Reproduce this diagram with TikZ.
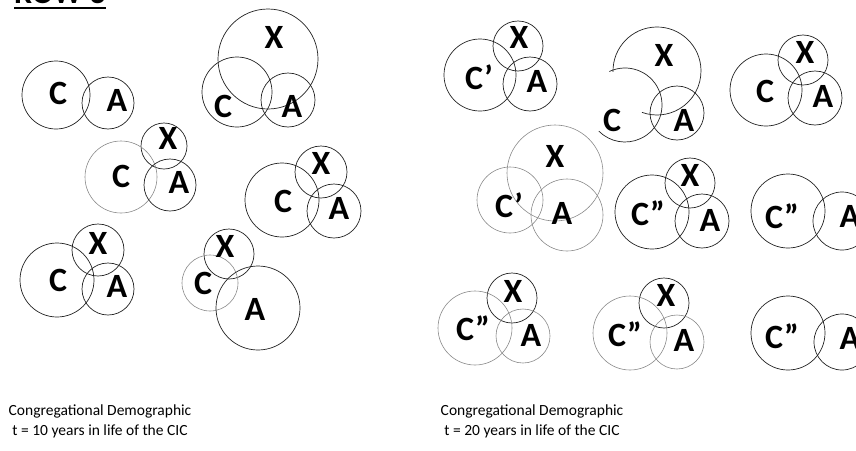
\documentclass[tikz,border=0pt]{standalone}
\usepackage{fontspec}
\setmainfont{Carlito}
\usepackage{tikz}
\usetikzlibrary{positioning}
\usepackage{xcolor}
\definecolor{ink}{HTML}{222222}
\definecolor{pale}{HTML}{8a8a8a}
% underline with a thicker, lower rule
\newcommand{\rowrule}[1]{\setbox0=\hbox{#1}\rlap{\rule[-6pt]{\wd0}{1.6pt}}\box0}

\begin{document}
\begin{tikzpicture}[
  x=1pt, y=1pt,
  lbl/.style={font=\fontsize{34}{34}\selectfont\bfseries, inner sep=0pt},
  ring/.style={draw=ink, line width=0.7pt},
  faint/.style={draw=pale, line width=0.6pt},
  capt/.style={font=\fontsize{15.5}{20}\selectfont, align=center, inner sep=0pt}
]
  \useasboundingbox (0,0) rectangle (856,-450);

  % Title (cut at the top edge)
  \node[font=\fontsize{32}{32}\selectfont\bfseries, anchor=base west, inner sep=0pt]
    (rowtitle) at (14,-3) {\rowrule{ROW 3}};

  % ---- t = 10 years ----
  % group: C A
  \draw[ring] (56,-95) circle[radius=34];
  \draw[ring] (108,-103) circle[radius=26];
  \node[lbl] (lc1) at (58,-93) {C};
  \node[lbl] (la1) at (117,-100) {A};

  % group: big X over C A
  \draw[ring] (268,-59) circle[radius=50];
  \draw[ring] (237,-92) circle[radius=35];
  \draw[ring] (288,-100) circle[radius=27];
  \node[lbl] (lx2) at (274,-37) {X};
  \node[lbl] (lc2) at (223,-106) {C};
  \node[lbl] (la2) at (292,-106) {A};

  % group: small X on C A
  \draw[ring] (164,-146) circle[radius=23];
  \draw[faint] (121,-177) circle[radius=36];
  \draw[ring] (170,-185) circle[radius=26];
  \node[lbl] (lx3) at (168,-138) {X};
  \node[lbl] (lc3) at (121,-176) {C};
  \node[lbl] (la3) at (179,-182) {A};

  % group: C X A (right)
  \draw[ring] (282,-200) circle[radius=37];
  \draw[ring] (321,-172) circle[radius=26];
  \draw[ring] (334,-211) circle[radius=27];
  \node[lbl] (lx4) at (321,-163) {X};
  \node[lbl] (lc4) at (283,-201) {C};
  \node[lbl] (la4) at (339,-208) {A};

  % group: X C A (lower left)
  \draw[ring] (98,-250) circle[radius=26];
  \draw[ring] (57,-280) circle[radius=37];
  \draw[ring] (108,-289) circle[radius=26];
  \node[lbl] (lx5) at (98,-243) {X};
  \node[lbl] (lc5) at (58,-280) {C};
  \node[lbl] (la5) at (117,-286) {A};

  % group: X C and big A
  \draw[ring] (229,-254) circle[radius=25];
  \draw[faint] (210,-283) circle[radius=28];
  \draw[ring] (258,-308) circle[radius=42];
  \node[lbl] (lx6) at (225,-246) {X};
  \node[lbl] (lc6) at (203,-283) {C};
  \node[lbl] (la6) at (255,-309) {A};

  \node[capt] (capl) at (100,-421)
    {Congregational Demographic\\t = 10 years in life of the CIC};

  % ---- t = 20 years ----
  % group: C' X A
  \draw[ring] (480,-75) circle[radius=36];
  \draw[ring] (518,-46) circle[radius=25];
  \draw[ring] (530,-84) circle[radius=27];
  \node[lbl] (rx1) at (519,-37) {X};
  \node[lbl] (rc1) at (479,-77) {C’};
  \node[lbl] (ra1) at (537,-81) {A};

  % group: broken X and C around A
  \draw[ring] (657,-71) ++(181:44) arc[start angle=181, end angle=-110, radius=44];
  \draw[ring] (625,-105) ++(115:37) arc[start angle=115, end angle=-135, radius=37];
  \draw[ring] (677,-113) circle[radius=27];
  \node[lbl] (rx2) at (664,-55) {X};
  \node[lbl] (rc2) at (612,-120) {C};
  \node[lbl] (ra2) at (684,-120) {A};

  % group: C X A
  \draw[ring] (766,-90) circle[radius=36];
  \draw[ring] (803,-60) circle[radius=25];
  \draw[ring] (815,-98) circle[radius=27];
  \node[lbl] (rx3) at (805,-52) {X};
  \node[lbl] (rc3) at (765,-91) {C};
  \node[lbl] (ra3) at (823,-96) {A};

  % group: faint X C' A
  \draw[faint] (555,-173) circle[radius=48];
  \draw[faint] (510,-200) circle[radius=33];
  \draw[faint] (567,-215) circle[radius=36];
  \node[lbl] (rx4) at (555,-156) {X};
  \node[lbl] (rc4) at (509,-205) {C’};
  \node[lbl] (ra4) at (562,-213) {A};

  % group: C'' X A
  \draw[ring] (652,-212) circle[radius=37];
  \draw[ring] (690,-183) circle[radius=25];
  \draw[ring] (702,-221) circle[radius=27];
  \node[lbl] (rx5) at (690,-175) {X};
  \node[lbl] (rc5) at (648,-213) {C”};
  \node[lbl] (ra5) at (710,-220) {A};

  % group: C'' A
  \draw[ring] (788,-211) circle[radius=37];
  \draw[ring] (842,-221) circle[radius=29];
  \node[lbl] (rc6) at (782,-216) {C”};
  \node[lbl] (ra6) at (850,-216) {A};

  % group: X C'' A (lower left)
  \draw[ring] (512,-298) circle[radius=25];
  \draw[faint] (475,-328) circle[radius=37];
  \draw[faint] (523,-336) circle[radius=27];
  \node[lbl] (rx7) at (513,-291) {X};
  \node[lbl] (rc7) at (473,-328) {C”};
  \node[lbl] (ra7) at (531,-335) {A};

  % group: X C'' A (middle)
  \draw[ring] (664,-303) circle[radius=25];
  \draw[faint] (630,-333) circle[radius=37];
  \draw[faint] (677,-342) circle[radius=27];
  \node[lbl] (rx8) at (666,-295) {X};
  \node[lbl] (rc8) at (625,-334) {C”};
  \node[lbl] (ra8) at (684,-340) {A};

  % group: C'' A (lower right)
  \draw[ring] (788,-333) circle[radius=37];
  \draw[ring] (842,-342) circle[radius=28];
  \node[lbl] (rc9) at (782,-336) {C”};
  \node[lbl] (ra9) at (850,-338) {A};

  \node[capt] (capr) at (532,-421)
    {Congregational Demographic\\t = 20 years in life of the CIC};
\end{tikzpicture}
\end{document}
